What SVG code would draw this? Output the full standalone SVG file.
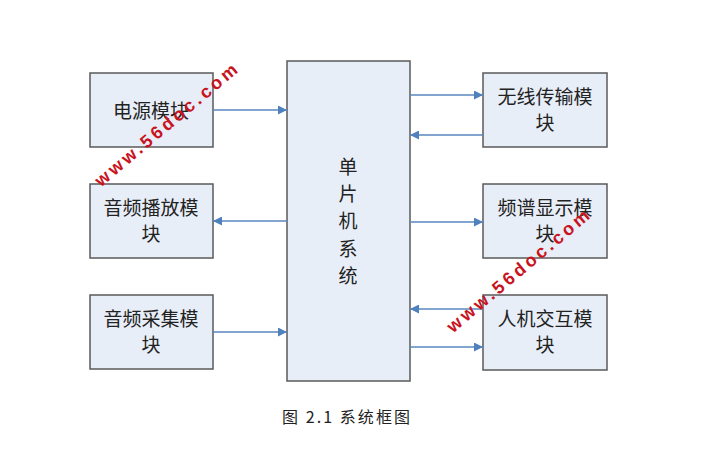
<svg xmlns="http://www.w3.org/2000/svg" width="718" height="455" viewBox="0 0 718 455">
<defs>
<marker id="ah" viewBox="0 0 10 10" refX="10" refY="5" markerWidth="10" markerHeight="9" markerUnits="userSpaceOnUse" orient="auto">
<path d="M0,0 L10,5 L0,10 z" fill="#4f81bd"/>
</marker>
<style>
.box{fill:#e8eef8;stroke:#5a5a5a;stroke-width:1.5}
.t{font-family:"Noto Sans CJK SC","Liberation Serif",serif;font-size:19px;fill:#222;text-anchor:middle;dominant-baseline:central}
.ln{stroke:#5b86c0;stroke-width:1.3;fill:none;marker-end:url(#ah)}
.wm{font-family:"Liberation Sans",Arial,sans-serif;font-weight:bold;font-size:18px;fill:#c8141e;text-anchor:middle;dominant-baseline:central}
.cap{font-family:"Noto Sans CJK SC","Liberation Serif",serif;font-size:16px;fill:#222;text-anchor:middle;dominant-baseline:central}
</style>
</defs>
<rect width="718" height="455" fill="#fff"/>
<g id="mcu"><rect class="box" x="287" y="61" width="123" height="320"/>
<text class="t" x="348" y="165">单</text><text class="t" x="348" y="192">片</text><text class="t" x="348" y="219">机</text><text class="t" x="348" y="247">系</text><text class="t" x="348" y="274">统</text></g>
<g id="power"><rect class="box" x="90" y="73" width="123" height="74"/><text class="t" x="151" y="109">电源模块</text></g>
<g id="play"><rect class="box" x="90" y="184" width="123" height="74"/><text class="t" x="151" y="206">音频播放模</text><text class="t" x="151" y="232">块</text></g>
<g id="collect"><rect class="box" x="90" y="295" width="123" height="74"/><text class="t" x="151" y="317">音频采集模</text><text class="t" x="151" y="343">块</text></g>
<g id="wireless"><rect class="box" x="483" y="73" width="124" height="74"/><text class="t" x="545" y="95">无线传输模</text><text class="t" x="545" y="121">块</text></g>
<g id="spectrum"><rect class="box" x="483" y="184" width="124" height="74"/><text class="t" x="545" y="206">频谱显示模</text><text class="t" x="545" y="232">块</text></g>
<g id="hmi"><rect class="box" x="483" y="295" width="124" height="75"/><text class="t" x="545" y="317">人机交互模</text><text class="t" x="545" y="343">块</text></g>
<g id="connectors">
<line class="ln" x1="213" y1="110" x2="287" y2="110"/>
<line class="ln" x1="410" y1="95" x2="483" y2="95"/>
<line class="ln" x1="483" y1="135" x2="410" y2="135"/>
<line class="ln" x1="287" y1="221" x2="213" y2="221"/>
<line class="ln" x1="410" y1="222" x2="483" y2="222"/>
<line class="ln" x1="213" y1="332" x2="287" y2="332"/>
<line class="ln" x1="483" y1="309" x2="410" y2="309"/>
<line class="ln" x1="410" y1="347" x2="483" y2="347"/>
</g>
<text class="cap" x="346" y="416" textLength="128" lengthAdjust="spacing">图 2.1 系统框图</text>
<text class="wm" transform="translate(166,125) rotate(-40)" textLength="180" lengthAdjust="spacing">www.56doc.com</text>
<text class="wm" transform="translate(518,271) rotate(-40)" textLength="180" lengthAdjust="spacing">www.56doc.com</text>
</svg>
